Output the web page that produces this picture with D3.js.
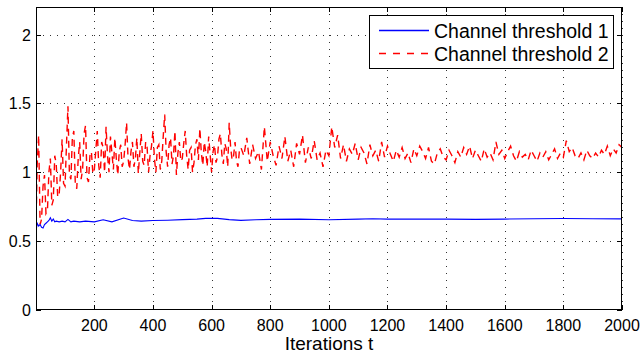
<!DOCTYPE html>
<html><head><meta charset="utf-8">
<script src="https://cdn.jsdelivr.net/npm/d3@7"></script>
<style>body{margin:0;background:#fff}svg{display:block;font-family:"Liberation Sans",Arial,sans-serif}</style>
</head><body><svg id="c" width="643" height="353"></svg>
<script>
const xTicks = [200,400,600,800,1000,1200,1400,1600,1800,2000];
const yTicks = [0,0.5,1,1.5,2];
const seriesNames = ["Channel threshold 1","Channel threshold 2"];
const blueT = [1,5,10,15,20,25,30,35,40,45,50,55,60,65,70,80,90,100,110,120,130,150,170,200,230,260,300,330,360,400,450,500,550,580,620,660,700,750,800,900,1000,1100,1150,1200,1300,1400,1500,1600,1700,1800,1900,2000];
const blueV = [0.57,0.63,0.61,0.62,0.60,0.595,0.62,0.63,0.64,0.65,0.67,0.645,0.66,0.64,0.645,0.64,0.645,0.64,0.658,0.64,0.645,0.64,0.645,0.64,0.655,0.64,0.668,0.65,0.645,0.65,0.652,0.656,0.66,0.665,0.665,0.656,0.651,0.655,0.658,0.66,0.655,0.66,0.663,0.66,0.66,0.66,0.658,0.66,0.662,0.664,0.662,0.662];
const redT = [
1,5,10,15,20,25,30,35,40,45,50,55,60,65,70,75,80,85,90,95,
100,105,110,115,120,125,130,135,140,145,150,155,160,165,170,175,180,185,190,195,
200,205,210,215,220,225,230,235,240,245,250,255,260,265,270,275,280,285,290,295,
300,305,310,315,320,325,330,335,340,345,350,355,360,365,370,375,380,385,390,395,
400,405,410,415,420,425,430,435,440,445,450,455,460,465,470,475,480,485,490,495,
500,505,510,515,520,525,530,535,540,545,550,555,560,565,570,575,580,585,590,595,
600,605,610,615,620,625,630,635,640,645,650,655,660,665,670,675,680,685,690,695,
700,710,720,730,740,750,760,770,780,790,800,810,820,830,840,850,860,870,880,890,900,910,920,930,940,950,960,970,980,990,
1000,1010,1020,1030,1040,1050,1060,1070,1080,1090,1100,1110,1120,1130,1140,1150,1160,1170,1180,1190,
1200,1210,1220,1230,1240,1250,1260,1270,1280,1290,1300,1310,1320,1330,1340,1350,1360,1370,1380,1390,
1400,1410,1420,1430,1440,1450,1460,1470,1480,1490,1500,1510,1520,1530,1540,1550,1560,1570,1580,1590,
1600,1610,1620,1630,1640,1650,1660,1670,1680,1690,1700,1710,1720,1730,1740,1750,1760,1770,1780,1790,
1800,1810,1820,1830,1840,1850,1860,1870,1880,1890,1900,1910,1920,1930,1940,1950,1960,1970,1980,1990,2000];
const redV = [
0.60,1.05,1.27,0.62,0.66,0.90,0.98,0.70,0.72,1.00,1.10,0.76,0.80,1.12,1.06,0.82,0.84,1.00,1.24,0.92,
0.90,1.20,1.48,0.98,0.95,1.25,1.30,0.92,0.88,1.10,1.22,0.95,1.02,1.28,1.34,0.96,0.93,1.12,1.15,0.99,
1.02,1.16,1.30,1.05,0.96,1.22,1.18,1.00,1.33,1.12,1.00,1.26,1.14,1.02,1.25,1.10,0.98,1.15,1.20,1.04,
1.08,1.20,1.36,1.10,1.02,1.15,1.22,1.04,1.10,1.25,0.99,1.14,1.28,1.08,1.05,1.22,1.18,1.00,1.12,1.19,
1.30,1.10,1.00,1.18,1.20,1.02,1.08,1.26,1.42,1.15,1.04,1.20,1.25,1.06,1.12,1.30,0.98,1.14,1.22,1.08,
1.10,1.21,1.30,1.12,1.02,1.16,1.18,1.00,1.07,1.20,1.24,1.09,1.32,1.14,1.05,1.22,1.15,1.04,1.26,1.13,
1.00,1.15,1.20,1.07,1.11,1.24,1.28,1.13,1.06,1.21,1.17,1.04,1.36,1.18,1.09,1.12,1.22,1.08,1.04,1.16,
1.18,1.12,1.25,1.06,1.20,1.10,1.15,1.02,1.33,1.08,1.22,1.12,1.05,1.19,1.10,1.26,1.08,1.16,1.04,1.21,1.13,1.27,1.07,1.18,1.10,1.23,1.09,1.14,1.04,1.16,
1.12,1.33,1.18,1.27,1.10,1.20,1.08,1.17,1.13,1.21,1.09,1.18,1.14,1.06,1.20,1.12,1.16,1.08,1.22,1.11,
1.19,1.13,1.08,1.16,1.11,1.18,1.10,1.14,1.07,1.17,1.12,1.19,1.15,1.10,1.18,1.08,1.06,1.14,1.17,1.11,
1.09,1.16,1.12,1.07,1.15,1.11,1.18,1.13,1.19,1.10,1.16,1.12,1.08,1.17,1.11,1.14,1.09,1.22,1.13,1.16,
1.10,1.15,1.19,1.12,1.08,1.15,1.11,1.13,1.09,1.16,1.12,1.08,1.14,1.11,1.15,1.09,1.13,1.17,1.10,1.14,
1.11,1.23,1.15,1.18,1.12,1.10,1.14,1.09,1.16,1.12,1.10,1.14,1.11,1.16,1.13,1.19,1.12,1.17,1.14,1.20,1.18];

const svg = d3.select("#c");
const L = 36, R = 622, T = 7, B = 310;
const x = d3.scaleLinear().domain([1,2000]).range([L,R]);
const y = d3.scaleLinear().domain([0,2.2]).range([B,T]);

// grid
const g = svg.append("g");
xTicks.forEach(t => g.append("line").attr("x1",Math.round(x(t))+0.5).attr("x2",Math.round(x(t))+0.5).attr("y1",T).attr("y2",B)
  .attr("stroke","#333").attr("stroke-width",1).attr("stroke-dasharray","1,6"));
yTicks.filter(v=>v>0).forEach(v => g.append("line").attr("y1",Math.round(y(v))+0.5).attr("y2",Math.round(y(v))+0.5).attr("x1",L).attr("x2",R)
  .attr("stroke","#333").attr("stroke-width",1).attr("stroke-dasharray","1,6"));

// data
svg.append("clipPath").attr("id","cp").append("rect").attr("x",L).attr("y",T).attr("width",R-L).attr("height",B-T);
const line = d3.line().x(d=>x(d[0])).y(d=>y(d[1]));
const red = redT.map((t,i)=>[t,redV[i]]);
const blue = blueT.map((t,i)=>[t,blueV[i]]);
svg.append("path").attr("d",line(red)).attr("fill","none").attr("stroke","#ff0000").attr("stroke-width",1.4).attr("stroke-dasharray","7,5").attr("clip-path","url(#cp)");
svg.append("path").attr("d",line(blue)).attr("fill","none").attr("stroke","#0000ff").attr("stroke-width",1.1).attr("clip-path","url(#cp)");

// axes with inward ticks
const ax = svg.append("g").attr("stroke","#000").attr("stroke-width",1);
ax.append("rect").attr("x",L+0.5).attr("y",T+0.5).attr("width",R-L-1).attr("height",B-T-1).attr("fill","none");
xTicks.forEach(t => {
  const px = Math.round(x(t))+0.5;
  ax.append("line").attr("x1",px).attr("x2",px).attr("y1",B).attr("y2",B-5);
  ax.append("line").attr("x1",px).attr("x2",px).attr("y1",T).attr("y2",T+5);
});
yTicks.forEach(v => {
  const py = Math.round(y(v))+0.5;
  ax.append("line").attr("x1",L).attr("x2",L+5).attr("y1",py).attr("y2",py);
  ax.append("line").attr("x1",R).attr("x2",R-5).attr("y1",py).attr("y2",py);
});

// tick labels
svg.append("g").selectAll("text").data(xTicks).join("text")
  .attr("x",d=>x(d)).attr("y",331).attr("text-anchor","middle").attr("font-size",16).text(d=>d);
svg.append("g").selectAll("text").data(yTicks).join("text")
  .attr("x",31).attr("y",d=>y(d)+6).attr("text-anchor","end").attr("font-size",16).text(d=>d);
svg.append("text").attr("x",(L+R)/2).attr("y",350).attr("text-anchor","middle").attr("font-size",19).text("Iterations t");

// legend
const lg = svg.append("g");
lg.append("rect").attr("x",369.5).attr("y",15.5).attr("width",244).attr("height",53).attr("fill","#fff").attr("stroke","#000");
const lgColors = ["#0000ff","#ff0000"], lgDash = [null,"7,7"], lgY = [30.5,53.5];
seriesNames.forEach((n,i)=>{
  lg.append("line").attr("x1",379).attr("x2",429).attr("y1",lgY[i]).attr("y2",lgY[i]).attr("stroke",lgColors[i]).attr("stroke-width",1.4).attr("stroke-dasharray",lgDash[i]);
  lg.append("text").attr("x",434).attr("y",lgY[i]+7).attr("font-size",19.5).attr("fill","#000").text(n);
});
</script></body></html>
